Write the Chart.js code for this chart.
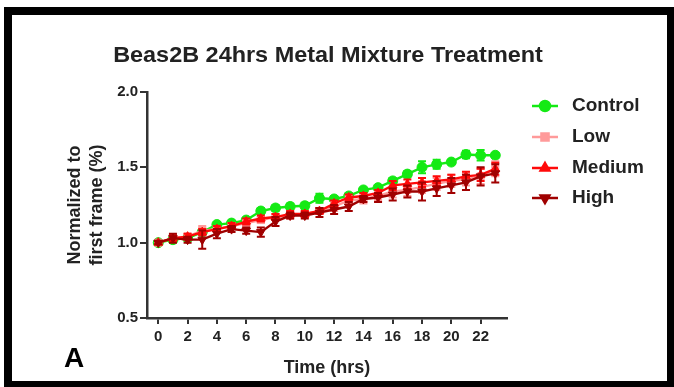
<!DOCTYPE html>
<html>
<head>
<meta charset="utf-8">
<script src="https://cdn.jsdelivr.net/npm/chart.js"></script>
<style>
  html, body { margin: 0; padding: 0; background: #fff; }
  canvas { display: block; }
</style>
</head>
<body>
<canvas id="chart" width="674" height="387"></canvas>
<script>
// Data
const hours = [0, 1, 2, 3, 4, 5, 6, 7, 8, 9, 10, 11, 12, 13, 14, 15, 16, 17, 18, 19, 20, 21, 22, 23];
const xTicks = [0, 2, 4, 6, 8, 10, 12, 14, 16, 18, 20, 22];
const yTicks = [0.5, 1.0, 1.5, 2.0];

const control = [1.00, 1.02, 1.03, 1.07, 1.12, 1.13, 1.15, 1.21, 1.23, 1.24, 1.245, 1.295, 1.29, 1.31, 1.35, 1.365, 1.41, 1.455, 1.50, 1.52, 1.535, 1.585, 1.58, 1.58];
const controlErr = [0.01, 0.01, 0.01, 0.015, 0.015, 0.015, 0.015, 0.02, 0.02, 0.02, 0.02, 0.03, 0.02, 0.02, 0.015, 0.015, 0.02, 0.02, 0.04, 0.03, 0.015, 0.025, 0.035, 0.015];
const low = [1.00, 1.03, 1.04, 1.08, 1.09, 1.11, 1.13, 1.15, 1.17, 1.18, 1.19, 1.21, 1.24, 1.28, 1.29, 1.31, 1.34, 1.35, 1.37, 1.39, 1.41, 1.42, 1.44, 1.49];
const lowErr = [0.01, 0.02, 0.02, 0.03, 0.02, 0.02, 0.02, 0.02, 0.02, 0.02, 0.02, 0.02, 0.03, 0.03, 0.03, 0.03, 0.04, 0.04, 0.04, 0.04, 0.04, 0.04, 0.05, 0.05];
const medium = [1.00, 1.03, 1.04, 1.07, 1.09, 1.11, 1.14, 1.16, 1.17, 1.19, 1.19, 1.21, 1.26, 1.30, 1.31, 1.33, 1.38, 1.39, 1.40, 1.41, 1.42, 1.44, 1.45, 1.49];
const mediumErr = [0.01, 0.02, 0.02, 0.02, 0.02, 0.02, 0.02, 0.02, 0.02, 0.02, 0.02, 0.02, 0.02, 0.02, 0.02, 0.02, 0.03, 0.03, 0.03, 0.03, 0.03, 0.03, 0.04, 0.04];
const high = [1.00, 1.03, 1.02, 1.02, 1.06, 1.09, 1.08, 1.07, 1.14, 1.18, 1.18, 1.20, 1.22, 1.24, 1.29, 1.30, 1.32, 1.34, 1.34, 1.36, 1.38, 1.40, 1.44, 1.46];
const highErr = [0.01, 0.03, 0.02, 0.06, 0.03, 0.02, 0.02, 0.03, 0.03, 0.02, 0.02, 0.03, 0.03, 0.03, 0.02, 0.03, 0.04, 0.04, 0.06, 0.05, 0.05, 0.05, 0.06, 0.06];

const FONT = '"Liberation Sans", Arial, sans-serif';

function series(label, values, errors, color, style, rotation, order) {
    return {
        label: label,
        data: hours.map((h, i) => ({ x: h, y: values[i] })),
        errors: errors,
        borderColor: color,
        backgroundColor: color,
        borderWidth: 2.4,
        pointStyle: style,
        pointRotation: rotation,
        pointRadius: 5,
        pointBorderWidth: 1,
        tension: 0,
        order: order
    };
}

const datasets = [
    series('Control', control, controlErr, '#14ea14', 'circle', 0, 4),
    series('Low', low, lowErr, '#ff9a9a', 'rect', 0, 3),
    series('Medium', medium, mediumErr, '#ff0a0a', 'triangle', 0, 2),
    series('High', high, highErr, '#a00000', 'triangle', 180, 1)
];

// white page with the black frame
const framePlugin = {
    id: 'frame',
    beforeDraw(chart) {
        const ctx = chart.ctx;
        ctx.save();
        ctx.fillStyle = '#fff';
        ctx.fillRect(0, 0, chart.width, chart.height);
        ctx.fillStyle = '#000';
        ctx.fillRect(4, 7, chart.width - 4, 8);
        ctx.fillRect(4, 7, 8, chart.height - 7);
        ctx.fillRect(chart.width - 7, 7, 7, chart.height - 7);
        ctx.fillRect(4, chart.height - 6, chart.width - 4, 6);
        ctx.restore();
    }
};

// error bars, drawn with each dataset so stacking order matches
const errorBarPlugin = {
    id: 'errorBars',
    afterDatasetDraw(chart, args) {
        const ds = chart.data.datasets[args.index];
        const yScale = chart.scales.y;
        const ctx = chart.ctx;
        ctx.save();
        ctx.strokeStyle = ds.borderColor;
        ctx.lineWidth = 2;
        args.meta.data.forEach((pt, i) => {
            const v = ds.data[i].y;
            const e = ds.errors[i];
            const top = yScale.getPixelForValue(v + e);
            const bot = yScale.getPixelForValue(v - e);
            ctx.beginPath();
            ctx.moveTo(pt.x, top);
            ctx.lineTo(pt.x, bot);
            ctx.moveTo(pt.x - 4, top);
            ctx.lineTo(pt.x + 4, top);
            ctx.moveTo(pt.x - 4, bot);
            ctx.lineTo(pt.x + 4, bot);
            ctx.stroke();
        });
        ctx.restore();
    }
};

// title, panel letter and legend
const textPlugin = {
    id: 'texts',
    afterDraw(chart) {
        const ctx = chart.ctx;
        ctx.save();
        ctx.fillStyle = '#222';
        ctx.textBaseline = 'alphabetic';
        ctx.textAlign = 'center';
        ctx.font = 'bold 22px ' + FONT;
        ctx.save();
        ctx.translate(328, 62);
        ctx.scale(1.065, 1);
        ctx.fillText('Beas2B 24hrs Metal Mixture Treatment', 0, 0);
        ctx.restore();

        ctx.fillStyle = '#000';
        ctx.font = 'bold 28px ' + FONT;
        ctx.fillText('A', 74, 367);

        const legendY = [106, 137, 168, 198];
        chart.data.datasets.forEach((ds, i) => {
            const y = legendY[i];
            ctx.strokeStyle = ds.borderColor;
            ctx.lineWidth = 2.5;
            ctx.beginPath();
            ctx.moveTo(532, y);
            ctx.lineTo(558, y);
            ctx.stroke();
            ctx.fillStyle = ds.borderColor;
            Chart.helpers.drawPoint(ctx, { pointStyle: ds.pointStyle, rotation: ds.pointRotation, radius: 5, borderWidth: 1 }, 545, y);
            ctx.fillStyle = '#222';
            ctx.textAlign = 'left';
            ctx.textBaseline = 'middle';
            ctx.font = 'bold 19px ' + FONT;
            ctx.fillText(ds.label, 572, y);
        });
        ctx.restore();
    }
};

new Chart(document.getElementById('chart'), {
    type: 'line',
    data: { datasets: datasets },
    options: {
        responsive: false,
        animation: false,
        layout: { padding: { left: 0, top: 92, right: 167, bottom: 0 } },
        plugins: {
            legend: { display: false },
            tooltip: { enabled: false }
        },
        scales: {
            x: {
                type: 'linear',
                min: -0.77,
                max: 23.8,
                afterFit: s => { s.height = 69; },
                afterBuildTicks: s => { s.ticks = xTicks.map(v => ({ value: v })); },
                grid: { drawOnChartArea: false, drawTicks: true, tickLength: 6, color: '#333', lineWidth: 2 },
                border: { color: '#333', width: 2.5 },
                ticks: { color: '#222', font: { family: FONT, size: 15, weight: 'bold' }, padding: 4, maxRotation: 0, autoSkip: false },
                title: { display: true, text: 'Time (hrs)', color: '#222', font: { family: FONT, size: 18, weight: 'bold' }, padding: { top: 0, bottom: 8 } }
            },
            y: {
                min: 0.5,
                max: 2.0,
                afterFit: s => { s.width = 147; },
                afterBuildTicks: s => { s.ticks = yTicks.map(v => ({ value: v })); },
                grid: { drawOnChartArea: false, drawTicks: true, tickLength: 7, color: '#333', lineWidth: 2 },
                border: { color: '#333', width: 2.5 },
                ticks: { color: '#222', font: { family: FONT, size: 15, weight: 'bold' }, padding: 2, callback: v => v.toFixed(1) },
                title: { display: true, text: ['Normalized to', 'first frame (%)'], color: '#222', font: { family: FONT, size: 18, weight: 'bold', lineHeight: 1.22 }, padding: { top: 64, bottom: 0 } }
            }
        }
    },
    plugins: [framePlugin, errorBarPlugin, textPlugin]
});
</script>
</body>
</html>
